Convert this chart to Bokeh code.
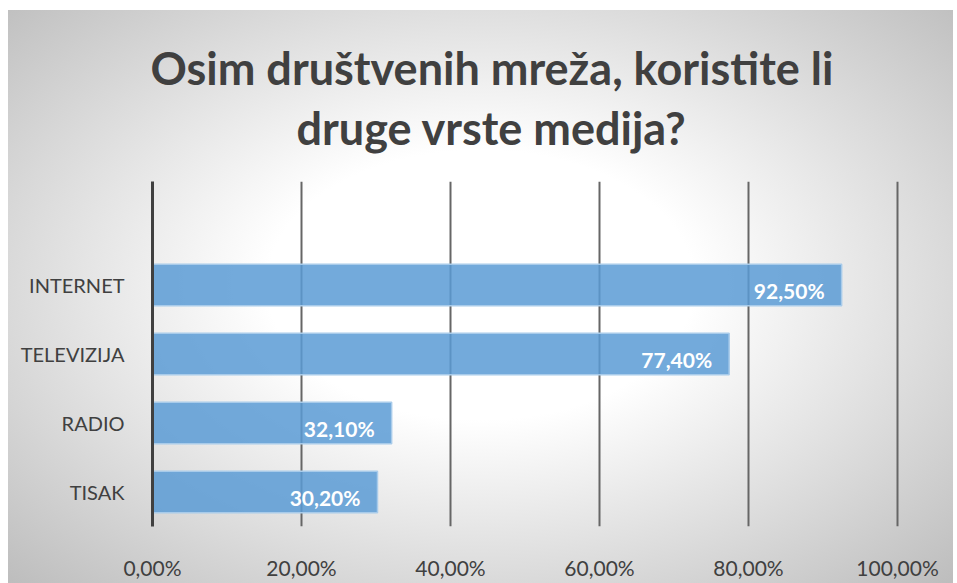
from bokeh.plotting import figure
from bokeh.models import (ColumnDataSource, FactorRange, Range1d, FixedTicker,
                          LabelSet, Title)
from bokeh.core.properties import value
from bokeh.embed import file_html
from bokeh.resources import INLINE

# ---- data ----
categories = ["TISAK", "RADIO", "TELEVIZIJA", "INTERNET"]
values = [0.302, 0.321, 0.774, 0.925]
value_labels = ["30,20%", "32,10%", "77,40%", "92,50%"]
x_ticks = [0.0, 0.2, 0.4, 0.6, 0.8, 1.0]
x_tick_labels = ["0,00%", "20,00%", "40,00%", "60,00%", "80,00%", "100,00%"]
title_lines = ["Osim društvenih mreža, koristite li", "druge vrste medija?"]

FONT = "Lato"
TXT = "#404040"

W, H = 945, 573
factors = categories + [" "]

p = figure(width=W, height=H, output_backend="svg", toolbar_location=None,
           y_range=FactorRange(factors=factors, range_padding=0),
           x_range=Range1d(0, 1.004),
           min_border_left=144, min_border_right=53,
           min_border_top=171, min_border_bottom=57,
           background_fill_alpha=0, border_fill_alpha=0,
           outline_line_color=None, margin=(10, 4, 0, 8),
           styles={"background": "radial-gradient(ellipse farthest-corner at 50% 48%, #ffffff 0%, #ffffff 32%, #bdbdbd 100%)"})

src = ColumnDataSource(dict(cat=categories, val=values, lab=value_labels))
p.hbar(y="cat", right="val", left=0, height=0.6, source=src,
       fill_color="#5B9BD5", fill_alpha=0.85,
       line_color="#a8cbea", line_width=1.5)

labels = LabelSet(x="val", y="cat", text="lab", source=src,
                  x_offset=-17, y_offset=-5,
                  text_align="right", text_baseline="middle",
                  text_color="white", text_font=value(FONT),
                  text_font_style="bold", text_font_size="21px")
p.add_layout(labels)

# grid
p.ygrid.grid_line_color = None
p.xgrid.ticker = FixedTicker(ticks=x_ticks)
p.xgrid.grid_line_color = "#666666"
p.xgrid.grid_line_width = 2

# x axis
p.xaxis.ticker = FixedTicker(ticks=x_ticks)
p.xaxis.major_label_overrides = {t: l for t, l in zip(x_ticks, x_tick_labels)}
p.xaxis.axis_line_color = None
p.xaxis.major_tick_line_color = None
p.xaxis.minor_tick_line_color = None
p.xaxis.major_label_standoff = 22
p.xaxis.major_label_text_font = FONT
p.xaxis.major_label_text_font_size = "21px"
p.xaxis.major_label_text_color = TXT
p.xaxis.major_label_text_font_style = "normal"

# y axis
p.yaxis.axis_line_color = "#404040"
p.yaxis.axis_line_width = 3
p.yaxis.major_tick_line_color = None
p.yaxis.minor_tick_line_color = None
p.yaxis.major_label_standoff = 22
p.yaxis.major_label_text_font = FONT
p.yaxis.major_label_text_font_size = "20px"
p.yaxis.major_label_text_color = TXT
p.yaxis.major_label_text_font_style = "normal"

# title (two lines): second line closest to the plot, added first
for line, offset, standoff in [(title_lines[1], 144, 54), (title_lines[0], -2, -46)]:
    p.add_layout(Title(text=line, align="left", offset=offset, standoff=standoff,
                       text_font=FONT, text_font_style="bold",
                       text_font_size="45px", text_color=TXT), "above")

open("out.html", "w").write(file_html(p, INLINE))
